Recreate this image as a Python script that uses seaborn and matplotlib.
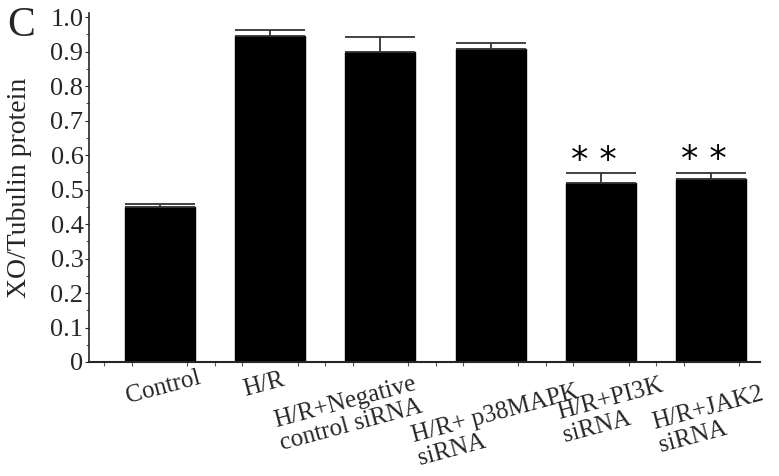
import numpy as np
import pandas as pd
import matplotlib
matplotlib.use("Agg")
import matplotlib.pyplot as plt
import matplotlib.transforms as mtransforms
from matplotlib.ticker import MultipleLocator
import seaborn as sns

# values
groups = ["Control", "H/R", "H/R+Negative\ncontrol siRNA", "H/R+ p38MAPK\nsiRNA",
          "H/R+PI3K\nsiRNA", "H/R+JAK2\nsiRNA"]
means = [0.449, 0.945, 0.899, 0.907, 0.519, 0.530]
errs = [0.009, 0.019, 0.043, 0.018, 0.029, 0.019]
stars = ["", "", "", "", "* *", "* *"]

sns.set_style("ticks")
plt.rcParams["font.family"] = ["Liberation Serif", "DejaVu Serif"]

df = pd.DataFrame({"group": groups, "value": means})

fig = plt.figure(figsize=(7.79, 4.76), dpi=100)
ax = fig.add_axes([89 / 779, 1 - 362 / 476, (760 - 89) / 779, (362 - 13) / 476])

sns.barplot(data=df, x="group", y="value", color="black", width=0.635,
            saturation=1, ax=ax, edgecolor="black")
x = np.arange(len(groups))
ax.errorbar(x, means, yerr=[np.zeros(len(errs)), errs], fmt="none",
            ecolor="#333333", elinewidth=1.3, capsize=25.5, capthick=1.3)

# significance marks
for i, s in enumerate(stars):
    if s:
        ax.text(x[i] - 0.065, means[i] + errs[i] + 0.036, s, ha="center", va="center",
                fontsize=25, family="DejaVu Sans", color="black")

ax.set_xlim(-0.64, 5.44)
ax.set_ylim(0, 1.012)
ax.set_yticks(np.arange(0, 1.01, 0.1))
ax.set_yticklabels(["0"] + [f"{v:.1f}" for v in np.arange(0.1, 1.01, 0.1)])
ax.yaxis.set_minor_locator(MultipleLocator(0.05))
ax.xaxis.set_minor_locator(MultipleLocator(0.25))
ax.tick_params(axis="y", which="major", labelsize=19, length=3, width=0.8, pad=1)
ax.tick_params(axis="y", which="minor", length=2, width=0.6)
ax.tick_params(axis="x", which="both", length=3, width=0.8, color="#555555")
ax.tick_params(axis="x", which="major", length=0, labelsize=18)

ax.set_xlabel("")
ax.set_ylabel("XO/Tubulin protein", fontsize=20, labelpad=13)
sns.despine(ax=ax)
ax.spines["left"].set_linewidth(1.2)
ax.spines["bottom"].set_linewidth(1.5)

# per-label nudges (pixels) to mimic the hand-placed category text
shifts = [(4, 0), (-6, -2), (-32, -6), (8, -14), (12, -8), (0, -16)]
for lab, (dx, dy) in zip(ax.get_xticklabels(), shifts):
    lab.set_rotation(15)
    lab.set_ha("center")
    lab.set_va("top")
    lab.set_multialignment("left")
    lab.set_linespacing(1.1)
    lab.set_transform(lab.get_transform() +
                      mtransforms.ScaledTranslation(dx / 100, dy / 100, fig.dpi_scale_trans))

fig.text(7 / 779, 1 - 6 / 476, "C", fontsize=30, ha="left", va="top")

fig.savefig("out.png", dpi=100)
